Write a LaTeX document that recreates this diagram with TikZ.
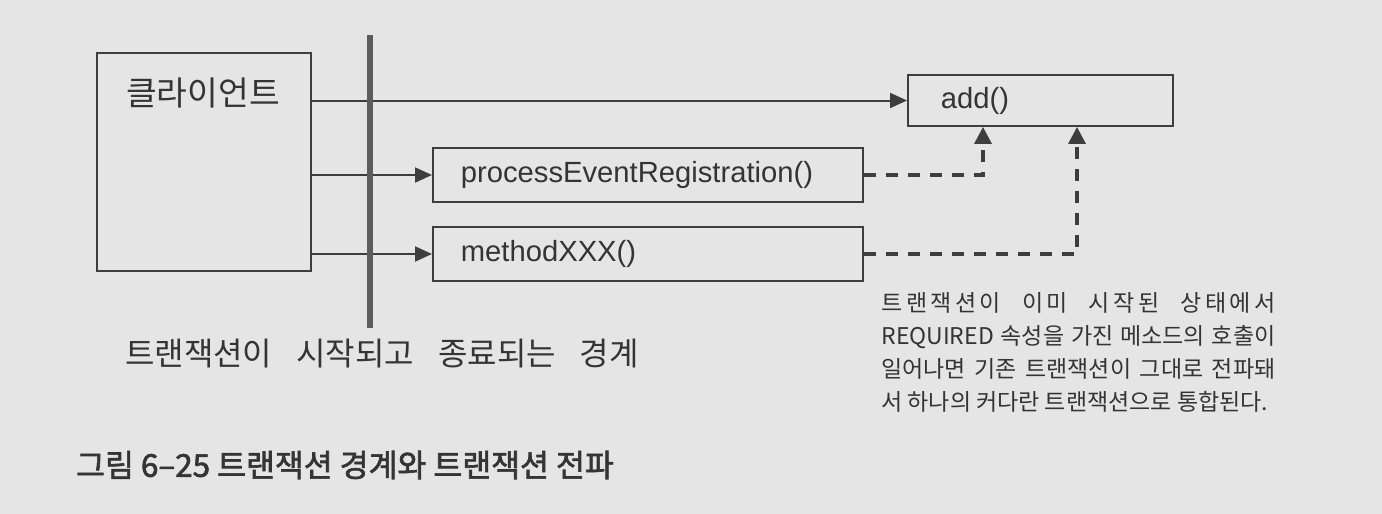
\documentclass[tikz,border=0pt]{standalone}
\usepackage{fontspec}
\setmainfont{Liberation Sans}
\newfontfamily\kr{Noto Sans CJK KR}
\newfontfamily\krcap{Noto Sans CJK KR}[FakeBold=2]
\usetikzlibrary{arrows.meta,calc}
\definecolor{bg}{RGB}{229,229,229}
\definecolor{ink}{RGB}{62,62,62}
\definecolor{bnd}{RGB}{92,92,92}
\definecolor{txt}{RGB}{52,52,52}
\begin{document}
\begin{tikzpicture}[x=0.5pt,y=-0.5pt,
  mbox/.style={draw=ink, line width=0.9pt, rectangle, inner ysep=0pt, text=txt},
  callbox/.style={mbox, anchor=west, align=left, font=\fontsize{14.6pt}{14.6pt}\selectfont},
  solidarrow/.style={draw=ink, line width=1pt, -{Triangle[length=8.5pt,width=7.5pt]}},
  dasharrow/.style={draw=ink, line width=1.6pt, dash pattern=on 6pt off 5pt, -{Triangle[length=8.5pt,width=8.5pt]}},
  boundline/.style={draw=bnd, line width=3pt},
  krtext/.style={text=txt, inner sep=0pt}
]
\fill[bg] (0,0) rectangle (1382,514);
\useasboundingbox (0,0) rectangle (1382,514);

% boxes
\node[mbox, anchor=north west, minimum width=107pt, minimum height=109pt] (client) at (96,52) {};
\node[krtext, font=\kr\fontsize{16.7pt}{16.7pt}\selectfont] (clientlbl) at (203,93) {클라이언트};
\node[callbox, minimum height=25.5pt, text width=99.5pt, inner xsep=16.5pt] (add) at (907,100.5) {add()};
\node[callbox, minimum height=27pt, text width=187pt, inner xsep=14pt] (proc) at (432,175) {processEventRegistration()};
\node[callbox, minimum height=27pt, text width=187pt, inner xsep=14pt] (meth) at (432,254) {methodXXX()};

% solid calls
\draw[solidarrow] (client.east |- add.west) -- (add.west);
\draw[solidarrow] (client.east |- proc.west) -- (proc.west);
\draw[solidarrow] (client.east |- meth.west) -- (meth.west);

% transaction boundary
\coordinate (btop) at (370,35);
\coordinate (bbot) at (370,328);
\draw[boundline] (btop) -- (bbot);

% propagation (dashed)
\coordinate (d1) at ($(add.south west)+(76,0)$);
\coordinate (d2) at ($(add.south west)+(170,0)$);
\draw[dasharrow] (proc.east) -| (d1);
\draw[dasharrow] (meth.east) -| (d2);

% texts
\node[krtext, font=\kr\fontsize{16pt}{16pt}\selectfont] (blabel) at (382,354)
  {\spaceskip=0.75em\relax 트랜잭션이 시작되고 종료되는 경계};
\node[krtext, anchor=north west, align=left, font=\kr\fontsize{11.5pt}{16.5pt}\selectfont] (note) at (881,292)
  {\makebox[197pt][s]{\addfontfeatures{LetterSpace=15}트랜잭션이 이미 시작된 상태에서}\\
   \makebox[197pt][s]{REQUIRED 속성을 가진 메소드의 호출이}\\
   \makebox[197pt][s]{일어나면 기존 트랜잭션이 그대로 전파돼}\\
   서 하나의 커다란 트랜잭션으로 통합된다.};
\node[krtext, font=\krcap\fontsize{15.7pt}{15.7pt}\selectfont] (cap) at (345,465)
  {그림 6–25 트랜잭션 경계와 트랜잭션 전파};
\end{tikzpicture}
\end{document}
